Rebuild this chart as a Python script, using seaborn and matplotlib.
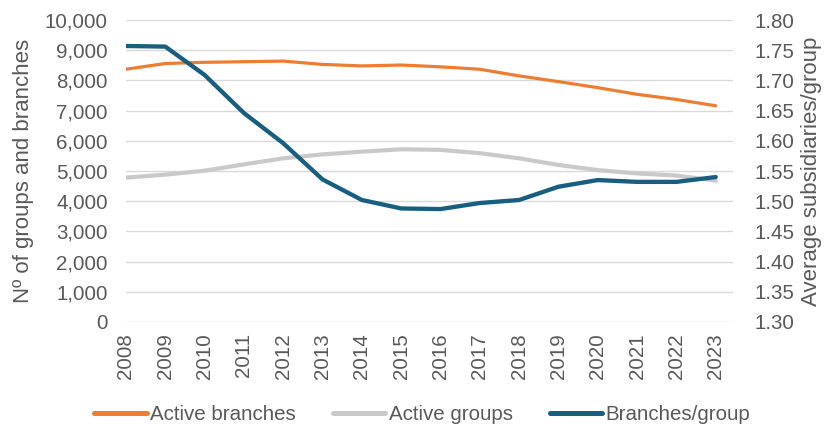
import matplotlib
matplotlib.use("Agg")
import matplotlib.pyplot as plt
import seaborn as sns
import pandas as pd

years = list(range(2008, 2024))
active_branches = [8370, 8560, 8600, 8620, 8640, 8530, 8480, 8510,
                   8450, 8370, 8150, 7960, 7760, 7540, 7370, 7160]
active_groups = [4780, 4880, 5010, 5220, 5420, 5550, 5640, 5720,
                 5700, 5590, 5420, 5200, 5030, 4920, 4850, 4680]
branches_per_group = [1.757, 1.756, 1.709, 1.646, 1.596, 1.536, 1.502, 1.488,
                      1.487, 1.497, 1.502, 1.524, 1.535, 1.532, 1.532, 1.540]

left_ticks = list(range(0, 10001, 1000))
right_ticks = [1.30, 1.35, 1.40, 1.45, 1.50, 1.55, 1.60, 1.65, 1.70, 1.75, 1.80]

df = pd.DataFrame({
    "year": years,
    "Active branches": active_branches,
    "Active groups": active_groups,
    "Branches/group": branches_per_group,
})

sns.set_theme(style="white")
plt.rcParams["font.family"] = ["Liberation Sans", "DejaVu Sans"]
text_color = "#595959"
fs = 14.8
fs_label = 16.0

fig = plt.figure(figsize=(8.26, 4.28), dpi=100)
ax = fig.add_axes([0.1525, 0.2477, 0.7345, 0.7055])
ax2 = ax.twinx()

c_orange = "#ED7D31"
c_grey = "#C9C9C9"
c_blue = "#175E80"

sns.lineplot(data=df, x="year", y="Active branches", ax=ax, color=c_orange,
             linewidth=2.3, label="Active branches", legend=False, zorder=3)
sns.lineplot(data=df, x="year", y="Active groups", ax=ax, color=c_grey,
             linewidth=3.0, label="Active groups", legend=False, zorder=2)
sns.lineplot(data=df, x="year", y="Branches/group", ax=ax2, color=c_blue,
             linewidth=3.1, label="Branches/group", legend=False, zorder=4)

ax.set_xlim(2008, 2023.43)
ax.set_ylim(0, 10000)
ax2.set_ylim(1.30, 1.80)

ax.set_yticks(left_ticks)
ax.set_yticklabels([f"{v:,}" for v in left_ticks])
ax2.set_yticks(right_ticks)
ax2.set_yticklabels([f"{v:.2f}" for v in right_ticks])
ax.set_xticks(years)
ax.set_xticklabels([str(y) for y in years], rotation=90)

ax.grid(axis="y", color="#D9D9D9", linewidth=1.0)
ax.grid(axis="x", visible=False)
ax2.grid(False)
ax.set_axisbelow(True)

for a in (ax, ax2):
    for s in a.spines.values():
        s.set_visible(False)
    a.tick_params(length=0, colors=text_color, labelsize=fs)

ax.tick_params(axis="y", pad=13)
ax2.tick_params(axis="y", pad=16)
ax.tick_params(axis="x", pad=8)

ax.set_xlabel("")
ax.set_ylabel("Nº of groups and branches", color=text_color, fontsize=fs_label)
ax2.set_ylabel("Average subsidiaries/group", color=text_color, fontsize=fs_label)
ax.yaxis.set_label_coords(-0.152, 0.5)
ax2.yaxis.set_label_coords(1.112, 0.5)

h1, l1 = ax.get_legend_handles_labels()
h2, l2 = ax2.get_legend_handles_labels()
leg = fig.legend(h1 + h2, l1 + l2, loc="center", bbox_to_anchor=(0.511, 0.032),
                 ncol=3, frameon=False, fontsize=fs, handlelength=2.57,
                 handletextpad=0.15, columnspacing=1.8, borderpad=0,
                 borderaxespad=0)
for t in leg.get_texts():
    t.set_color(text_color)
for ln in leg.get_lines():
    ln.set_linewidth(3.6)
    ln.set_solid_capstyle("round")

fig.savefig("out.png", dpi=100)
